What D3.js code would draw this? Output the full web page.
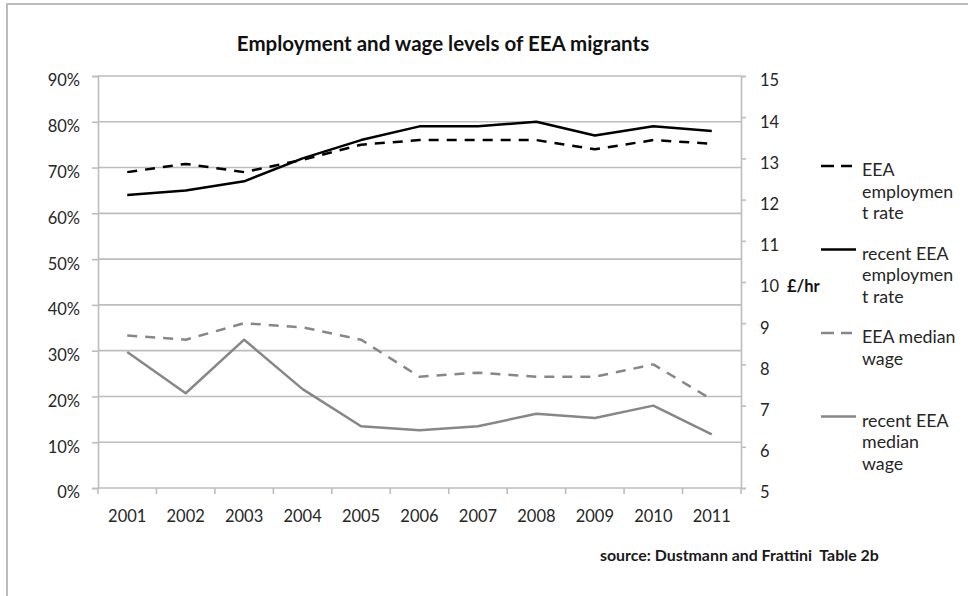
<!DOCTYPE html>
<html>
<head>
<meta charset="utf-8">
<script src="https://cdn.jsdelivr.net/npm/d3@7"></script>
<style>
  html, body { margin: 0; padding: 0; background: #fff; }
  svg { display: block; font-family: Lato, "Open Sans", sans-serif; }
</style>
</head>
<body>
<svg id="chart" width="968" height="596"></svg>
<script>
// Years on the category axis
const years = ["2001", "2002", "2003", "2004", "2005", "2006", "2007", "2008", "2009", "2010", "2011"];

// Employment rates (%), left axis
const eeaEmployment    = [69, 70.8, 69, 71.7, 75, 76, 76, 76, 74, 76, 75.2];
const recentEmployment = [64, 65, 67, 72, 76, 79, 79, 80, 77, 79, 78];

// Median hourly wages (£/hr), right axis
const eeaWage    = [8.7, 8.6, 9.0, 8.9, 8.6, 7.7, 7.8, 7.7, 7.7, 8.0, 7.15];
const recentWage = [8.3, 7.3, 8.6, 7.4, 6.5, 6.4, 6.5, 6.8, 6.7, 7.0, 6.3];

// Axis ticks
const leftTicks  = [0, 10, 20, 30, 40, 50, 60, 70, 80, 90];
const rightTicks = [5, 6, 7, 8, 9, 10, 11, 12, 13, 14, 15];

const legendLabels = [
  ["EEA", "employmen", "t rate"],
  ["recent EEA", "employmen", "t rate"],
  ["EEA median", "wage"],
  ["recent EEA", "median", "wage"]
];

const svg = d3.select("#chart");
const plot = { left: 98, right: 741, top: 76, bottom: 488 };

const x = d3.scaleBand().domain(years).range([plot.left, plot.right]);
const yL = d3.scaleLinear().domain([0, 90]).range([plot.bottom, plot.top]);
const yR = d3.scaleLinear().domain([5, 15]).range([plot.bottom, plot.top]);
const cx = d => x(d) + x.bandwidth() / 2;

const gridColor = "#bdbdbd";
const textColor = "#262626";
const grey = "#878787";

// Outer chart frame
svg.append("rect")
  .attr("x", 7).attr("y", 4).attr("width", 1000).attr("height", 700)
  .attr("fill", "none").attr("stroke", "#bcbcbc").attr("stroke-width", 2);

// Title
svg.append("text")
  .attr("x", 443).attr("y", 51)
  .attr("text-anchor", "middle")
  .attr("font-weight", "bold").attr("font-size", 20.5)
  .attr("fill", "#111")
  .text("Employment and wage levels of EEA migrants");

// Horizontal gridlines
svg.append("g").selectAll("line").data(leftTicks.slice(1)).join("line")
  .attr("x1", plot.left).attr("x2", plot.right)
  .attr("y1", d => yL(d)).attr("y2", d => yL(d))
  .attr("stroke", gridColor).attr("stroke-width", 1.6);

// Left axis
const gLeft = svg.append("g").attr("transform", `translate(${plot.left},0)`)
  .call(d3.axisLeft(yL).tickValues(leftTicks).tickSize(6).tickPadding(12)
    .tickFormat(d => d + "%"));
gLeft.select(".domain").attr("stroke", gridColor).attr("stroke-width", 1.6);
gLeft.selectAll(".tick line").attr("stroke", gridColor).attr("stroke-width", 1.6);
gLeft.selectAll(".tick text").attr("font-size", 16.5).attr("fill", textColor)
  .attr("font-family", "Lato").attr("dy", "0.6em");

// Right axis
const gRight = svg.append("g").attr("transform", `translate(${plot.right},0)`)
  .call(d3.axisRight(yR).tickValues(rightTicks).tickSize(5).tickPadding(14)
    .tickFormat(d3.format("d")));
gRight.select(".domain").attr("stroke", gridColor).attr("stroke-width", 1.6);
gRight.selectAll(".tick line").attr("stroke", gridColor).attr("stroke-width", 1.6);
gRight.selectAll(".tick text").attr("font-size", 16.5).attr("fill", textColor)
  .attr("font-family", "Lato").attr("dy", "0.6em");

svg.append("text")
  .attr("x", 787).attr("y", yR(10) + 9.5)
  .attr("font-weight", "bold").attr("font-size", 16.5).attr("fill", "#111")
  .text("£/hr");

// Bottom axis: ticks sit on the category boundaries
const gBottom = svg.append("g").attr("transform", `translate(0,${plot.bottom})`);
gBottom.append("line")
  .attr("x1", plot.left).attr("x2", plot.right)
  .attr("stroke", gridColor).attr("stroke-width", 1.6);
const bounds = years.map(d => x(d)).concat([plot.right]);
gBottom.selectAll("line.tick").data(bounds).join("line")
  .attr("class", "tick")
  .attr("x1", d => d).attr("x2", d => d).attr("y1", 0).attr("y2", 6)
  .attr("stroke", gridColor).attr("stroke-width", 1.6);
gBottom.selectAll("text").data(years).join("text")
  .attr("x", d => cx(d)).attr("y", 33.5)
  .attr("text-anchor", "middle").attr("font-size", 16.5).attr("fill", textColor)
  .text(d => d);

// Series lines
const series = [
  { values: eeaEmployment,    scale: yL, color: "#000", dash: "10,8" },
  { values: recentEmployment, scale: yL, color: "#000", dash: null },
  { values: eeaWage,          scale: yR, color: grey,   dash: "10,8" },
  { values: recentWage,       scale: yR, color: grey,   dash: null }
];

series.forEach(s => {
  const line = d3.line().x((d, i) => cx(years[i])).y(d => s.scale(d));
  svg.append("path")
    .datum(s.values)
    .attr("d", line)
    .attr("fill", "none")
    .attr("stroke", s.color)
    .attr("stroke-width", 2.5)
    .attr("stroke-linejoin", "round")
    .attr("stroke-dasharray", s.dash);
});

// Legend
const legendY = [166, 249.5, 333, 416.5];
const legend = svg.append("g");
series.forEach((s, i) => {
  const ly = legendY[i];
  legend.append("line")
    .attr("x1", 821).attr("x2", s.dash ? 852 : 856)
    .attr("y1", ly).attr("y2", ly)
    .attr("stroke", s.color).attr("stroke-width", 2.5)
    .attr("stroke-dasharray", s.dash ? "13,7" : null);
  legendLabels[i].forEach((t, k) => {
    legend.append("text")
      .attr("x", 862).attr("y", ly + 10 + k * 21.7)
      .attr("font-size", 17.8).attr("fill", textColor)
      .text(t);
  });
});

// Source note
svg.append("text")
  .attr("x", 600).attr("y", 561)
  .attr("font-weight", "bold").attr("font-size", 15.9).attr("fill", "#1a1a1a")
  .attr("xml:space", "preserve")
  .text("source: Dustmann and Frattini  Table 2b");
</script>
</body>
</html>
